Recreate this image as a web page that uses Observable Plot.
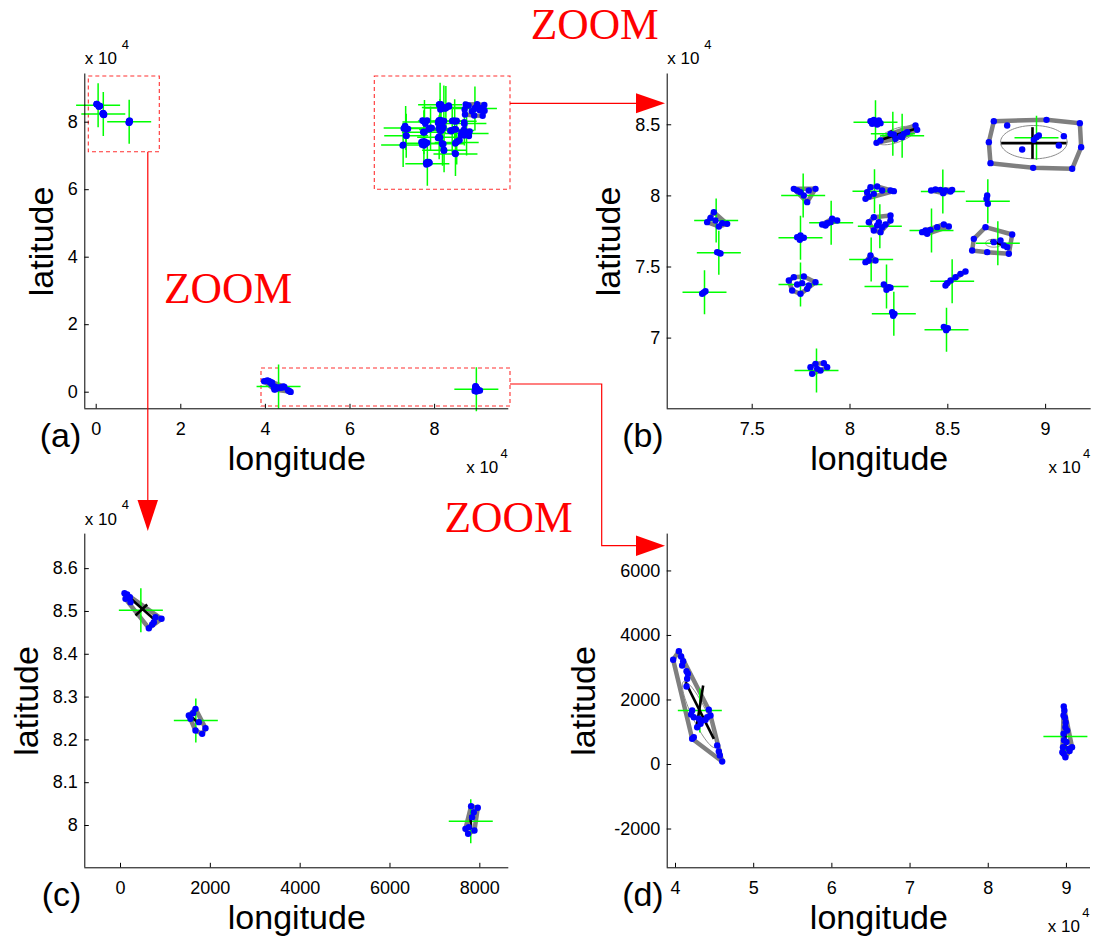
<!DOCTYPE html>
<html><head><meta charset="utf-8">
<script src="https://cdn.jsdelivr.net/npm/d3@7"></script>
<script src="https://cdn.jsdelivr.net/npm/@observablehq/plot@0.6"></script>
<style>
body{margin:0;background:#fff;}
#fig{position:relative;width:1098px;height:942px;overflow:hidden;background:#fff;}
</style></head><body><div id="fig"></div>
<script>
// ---------- DATA ----------
// cluster members (id, longitude, latitude) for the zoom of the north-east group (b)
const pointsB = [
 ["b1",81047,85255],["b1",81218,85349],["b1",81473,85302],["b1",81559,85115],["b1",81388,85021],["b1",81132,85068],["b1",81303,85185],
 ["b2",81354,83732],["b2",81559,83896],["b2",82070,84365],["b2",82240,84318],["b2",82581,84177],["b2",82752,84365],["b2",82922,84482],["b2",83433,84646],["b2",83348,84951],["b2",82666,84130],["b2",82325,84013],
 ["b3",87352,85255],["b3",88034,84951],["b3",90045,85349],["b3",91749,85115],["b3",87097,83779],["b3",91817,83427],["b3",91357,81904],["b3",89363,81974],["b3",87182,82302],["b3",88801,83263],["b3",90675,83544],["b3",90931,84200],["b3",89534,84130],["b3",89398,83943],["b3",89653,84248],
 ["b4",77128,80497],["b4",78236,80497],["b4",77810,79559],["b4",77469,80263],["b4",77639,80028],["b4",77895,80380],["b4",77299,80380],
 ["b5",80792,79794],["b5",80877,80263],["b5",81047,80614],["b5",81388,80661],["b5",81644,80380],["b5",82070,80380],["b5",82240,80333],["b5",81218,80145],["b5",80962,79958],
 ["b6",84149,80380],["b6",84370,80450],["b6",84626,80427],["b6",84882,80380],["b6",85137,80310],["b6",85222,80427],["b6",84762,80192],
 ["b7",87012,80028],["b7",87045,79443],["b7",86978,79794],
 ["b8",72698,78153],["b8",73039,78856],["b8",73720,78036],["b8",73294,77848],["b8",72868,78458],["b8",73124,78270],["b8",73465,78083],
 ["b9",78577,77989],["b9",78832,78083],["b9",79088,78388],["b9",79344,78270],["b9",79003,78153],["b9",78747,77919],
 ["b10",80962,78153],["b10",81218,78505],["b10",82070,78622],["b10",82070,78270],["b10",81559,77450],["b10",81218,77567],["b10",81388,77919],["b10",81644,77801],["b10",81473,78153],["b10",81814,77989],
 ["b11",83689,77450],["b11",83859,77567],["b11",84115,77614],["b11",84456,77801],["b11",84796,77989],["b11",85052,77848],["b11",83944,77333],
 ["b12",86330,76981],["b12",86927,77801],["b12",88290,77286],["b12",88119,75927],["b12",86245,76161],["b12",87012,76044],["b12",87352,76747],["b12",87863,76512],["b12",87693,76864],["b12",88034,76395],
 ["b13",73294,75997],["b13",73209,76044],["b13",73379,75950],
 ["b14",77299,77098],["b14",77469,77215],["b14",77639,77052],["b14",77435,76911],
 ["b15",80792,75340],["b15",81047,75809],["b15",81303,75458],["b15",80962,75458],
 ["b16",72442,73114],["b16",72612,73301],["b16",72527,73208],
 ["b17",76873,74051],["b17",77128,74285],["b17",77639,74332],["b17",78236,73934],["b17",77810,73465],["b17",77469,73114],["b17",77043,73348],["b17",77299,73770],["b17",77554,73864],["b17",77895,73700],
 ["b18",81729,73770],["b18",81985,73582],["b18",81866,73395],["b18",82070,73536],
 ["b19",84882,73700],["b19",85137,74051],["b19",85393,74285],["b19",85648,74520],["b19",85904,74684],["b19",84967,73864],
 ["b20",82155,71825],["b20",82274,71707],["b20",82206,71567],
 ["b21",84796,70793],["b21",85000,70699],["b21",84915,70558],
 ["b22",77980,67957],["b22",78236,68191],["b22",78662,68238],["b22",78832,67957],["b22",78491,67722],["b22",78065,67488],["b22",78321,67839]
];
const crossesB = [
 ["b1",81303,85185],["b2",82189,84365],["b2",82666,84224],["b3",89534,84084],["b4",77606,80028],["b5",81252,80333],
 ["b6",84745,80310],["b7",87045,79630],["b8",73158,78270],["b9",79037,78107],["b10",81525,77872],["b11",84166,77567],
 ["b12",87557,76676],["b13",73294,75997],["b14",77469,77052],["b15",81082,75528],["b16",72562,73231],["b17",77469,73770],
 ["b18",81866,73629],["b19",85222,74004],["b20",82240,71707],["b21",84933,70582],["b22",78287,67722]
];
const segmentsB = [[81473,83896,83348,84717],[82070,84599,82325,83779],[87727,83708,91067,83708],[89329,84833,89329,82607],[87182,76864,87863,76512]];
const ellipsesB = [["b2",82377,84248,971,469,118,-457],["b3",89398,83779,1704,0,0,1172],["b12",87352,76676,426,0,0,281]];

// north-west group (c)
const pointsC = [
 ["c1",89,85427],["c1",148,85396],["c1",208,85334],["c1",111,85295],["c1",223,85217],["c1",779,84866],["c1",913,84828],["c1",742,84750],["c1",705,84695],["c1",631,84609],
 ["c2",1670,82725],["c2",1521,82570],["c2",1558,82492],["c2",1744,82414],["c2",1670,82219],["c2",1818,82141],["c2",1892,82274],["c2",1618,82624],
 ["c3",7806,80452],["c3",7954,80413],["c3",7865,80311],["c3",7754,79961],["c3",7680,79922],["c3",7739,79805],["c3",7880,79883],["c3",7828,80195]
];
const crossesC = [["c1",453,85030],["c2",1677,82453],["c3",7798,80101]];
const segmentsC = [[148,85373,779,84789],[334,84906,594,85163],[1595,82531,1744,82375],[7791,80234,7806,79922]];

// southern group (d)
const pointsD = [
 ["d1",39700,3245],["d1",40430,3513],["d1",40720,3348],["d1",40980,3203],["d1",40850,3069],["d1",41410,2893],["d1",41580,2811],["d1",41490,2656],["d1",41410,2418],["d1",42130,1674],["d1",42000,1550],["d1",42340,1467],["d1",42980,1416],["d1",43410,1364],["d1",43840,1384],["d1",44260,1695],["d1",44480,1519],["d1",44050,1467],["d1",43200,1261],["d1",42770,1157],["d1",42340,847],["d1",42130,796],["d1",45330,589],["d1",45540,403],["d1",45670,279],["d1",45970,93],
 ["d2",89660,1798],["d2",89740,1674],["d2",89630,1519],["d2",89870,1157],["d2",90080,1054],["d2",89630,951],["d2",89560,537],["d2",90290,486],["d2",90720,537],["d2",89660,331],["d2",89480,382],["d2",89870,227],["d2",89900,1300],["d2",90000,700],["d2",89700,750],["d2",90400,420],["d2",89800,1450]
];
const crossesD = [["d1",43112,1674],["d2",89870,868]];
const segmentsD = [[41279,2552,44903,796],[43539,2449,42686,1157],[89870,1364,89870,537]];
const ellipsesD = [["d1",43070,1550,2021,-1023,863,99]];

// zoom regions drawn on the overview (x1, x2, y1, y2)
const zoomBoxes = [[-1749,15035,93541,71111],[65863,97943,93541,59970],[39078,97943,7022,-4237]];

// ticks and tick labels
const aXTicks = [0,20000,40000,60000,80000], aXLabels = ["0","2","4","6","8"];
const aYTicks = [0,20000,40000,60000,80000], aYLabels = ["0","2","4","6","8"];
const bXTicks = [75000,80000,85000,90000], bXLabels = ["7.5","8","8.5","9"];
const bYTicks = [70000,75000,80000,85000], bYLabels = ["7","7.5","8","8.5"];
const cXTicks = [0,2000,4000,6000,8000], cXLabels = ["0","2000","4000","6000","8000"];
const cYTicks = [80000,81000,82000,83000,84000,85000,86000], cYLabels = ["8","8.1","8.2","8.3","8.4","8.5","8.6"];
const dXTicks = [40000,50000,60000,70000,80000,90000], dXLabels = ["4","5","6","7","8","9"];
const dYTicks = [-2000,0,2000,4000,6000], dYLabels = ["-2000","0","2000","4000","6000"];

// ---------- HELPERS ----------
const FONT = "'Liberation Sans', Arial, Helvetica, sans-serif";
const crossSymbol = {draw(ctx, size){const r=Math.sqrt(size/Math.PI);ctx.moveTo(-r,0);ctx.lineTo(r,0);ctx.moveTo(0,-r);ctx.lineTo(0,r);}};
function hulls(points){
  const out=[];
  for (const [id, pts] of d3.group(points, d=>d[0])) {
    const xy = pts.map(p=>[p[1],p[2]]);
    const h = (xy.length>=3 && d3.polygonHull(xy)) || xy;
    h.forEach(q=>out.push({id, x:q[0], y:q[1]}));
  }
  return out;
}
function ellipsePts(e){
  const [id,cx,cy,ax,ay,bx,by]=e;
  return d3.range(0,73).map(i=>{const t=i/72*2*Math.PI;return {id,x:cx+ax*Math.cos(t)+bx*Math.sin(t),y:cy+ay*Math.cos(t)+by*Math.sin(t)};});
}
function makePanel(c){
  const mL=c.frame[0]-c.left, mR=c.left+c.width-c.frame[1], mT=c.frame[2]-c.top, mB=c.top+c.height-c.frame[3];
  const fw=c.frame[1]-c.frame[0], fh=c.frame[3]-c.frame[2];
  const X=d=>d[1], Y=d=>d[2];
  const marks=[];
  if (c.boxes) marks.push(Plot.rect(c.boxes,{x1:d=>d[0],x2:d=>d[1],y1:d=>d[2],y2:d=>d[3],fill:"none",stroke:"#ff3030",strokeWidth:1.1,strokeDasharray:"4,3"}));
  marks.push(Plot.line(hulls(c.pts),{x:"x",y:"y",z:"id",curve:"linear-closed",stroke:"#7f7f7f",strokeWidth:4.5,strokeLinejoin:"round"}));
  if (c.ells) marks.push(Plot.line(c.ells.flatMap(ellipsePts),{x:"x",y:"y",z:"id",curve:"linear-closed",stroke:"#8c8c8c",strokeWidth:1}));
  marks.push(Plot.dot(c.crosses,{x:X,y:Y,r:22,symbol:crossSymbol,fill:"none",stroke:"#00ff00",strokeWidth:1.5}));
  if (c.segs) marks.push(Plot.link(c.segs,{x1:d=>d[0],y1:d=>d[1],x2:d=>d[2],y2:d=>d[3],stroke:"#000",strokeWidth:2.6}));
  marks.push(Plot.dot(c.pts,{x:X,y:Y,r:3.2,fill:"#0000ff",stroke:"none"}));
  marks.push(Plot.ruleY([c.yDomain[0]],{stroke:"#000",strokeWidth:1}));
  marks.push(Plot.ruleX([c.xDomain[0]],{stroke:"#000",strokeWidth:1}));
  marks.push(Plot.tickX(c.xTicks,{x:d=>d,insetTop:fh-4.5,stroke:"#000"}));
  marks.push(Plot.tickY(c.yTicks,{y:d=>d,insetRight:fw-4.5,stroke:"#000"}));
  marks.push(Plot.text(c.xTicks,{x:d=>d,frameAnchor:"bottom",dy:26,textAnchor:"middle",lineAnchor:"bottom",text:(d,i)=>c.xLabels[i],fontSize:18,fill:"#000"}));
  marks.push(Plot.text(c.yTicks,{y:d=>d,frameAnchor:"left",dx:-7,textAnchor:"end",text:(d,i)=>c.yLabels[i],fontSize:18,fill:"#000"}));
  marks.push(Plot.text(["longitude"],{text:d=>d,frameAnchor:"bottom",dy:61,textAnchor:"middle",lineAnchor:"bottom",fontSize:34,fill:"#000"}));
  marks.push(Plot.text(["latitude"],{text:d=>d,frameAnchor:"left",dx:-c.yTitleOffset,rotate:-90,textAnchor:"middle",lineAnchor:"bottom",fontSize:34,fill:"#000"}));
  marks.push(Plot.text([c.letter],{text:d=>d,frameAnchor:"bottom-left",dx:-3.5,dy:38.5,textAnchor:"end",lineAnchor:"bottom",fontSize:34,fill:"#000"}));
  if (c.topMult){
    marks.push(Plot.text(["x 10"],{text:d=>d,frameAnchor:"top-left",dy:-9.6,textAnchor:"start",lineAnchor:"bottom",fontSize:17,fill:"#000"}));
    marks.push(Plot.text(["4"],{text:d=>d,frameAnchor:"top-left",dx:37,dy:-25.5,textAnchor:"start",lineAnchor:"bottom",fontSize:13,fill:"#000"}));
  }
  if (c.botMult){
    marks.push(Plot.text(["x 10"],{text:d=>d,frameAnchor:"bottom-right",dx:-10.5,dy:64,textAnchor:"end",lineAnchor:"bottom",fontSize:17,fill:"#000"}));
    marks.push(Plot.text(["4"],{text:d=>d,frameAnchor:"bottom-right",dx:-1,dy:49.5,textAnchor:"end",lineAnchor:"bottom",fontSize:13,fill:"#000"}));
  }
  const svg = Plot.plot({
    width:c.width, height:c.height, marginLeft:mL, marginRight:mR, marginTop:mT, marginBottom:mB,
    x:{domain:c.xDomain, axis:null}, y:{domain:c.yDomain, axis:null},
    style:{fontFamily:FONT, background:"transparent", overflow:"visible", color:"#000"},
    marks
  });
  svg.style.position="absolute"; svg.style.left=c.left+"px"; svg.style.top=c.top+"px"; svg.style.maxWidth="none";
  document.getElementById("fig").appendChild(svg);
  return svg;
}

const allPoints = pointsB.concat(pointsC, pointsD);
const allCrosses = crossesB.concat(crossesC, crossesD);

makePanel({letter:"(a)", left:0, top:0, width:549, height:490, frame:[84.3,508.3,73.5,408.3],
  xDomain:[-2695,97541], yDomain:[-4919,94281], xTicks:aXTicks, xLabels:aXLabels, yTicks:aYTicks, yLabels:aYLabels,
  pts:allPoints, crosses:allCrosses, boxes:zoomBoxes, yTitleOffset:31.9, topMult:true, botMult:true});
makePanel({letter:"(b)", left:549, top:0, width:549, height:490, frame:[666.7,1090.7,73.5,408.3],
  xDomain:[70655,92330], yDomain:[65029,88572], xTicks:bXTicks, xLabels:bXLabels, yTicks:bYTicks, yLabels:bYLabels,
  pts:pointsB, crosses:crossesB, segs:segmentsB, ells:ellipsesB, yTitleOffset:47, topMult:true, botMult:true});
makePanel({letter:"(c)", left:0, top:480, width:549, height:462, frame:[84.3,508.3,533.6,867.3],
  xDomain:[-795,8645], yDomain:[79012,86807], xTicks:cXTicks, xLabels:cXLabels, yTicks:cYTicks, yLabels:cYLabels,
  pts:pointsC, crosses:crossesC, segs:segmentsC, yTitleOffset:47, topMult:true, botMult:false});
makePanel({letter:"(d)", left:549, top:480, width:549, height:462, frame:[666.7,1090,533.6,867.3],
  xDomain:[38938,93079], yDomain:[-3202,7142], xTicks:dXTicks, xLabels:dXLabels, yTicks:dYTicks, yLabels:dYLabels,
  pts:pointsD, crosses:crossesD, segs:segmentsD, ells:ellipsesD, yTitleOffset:72, topMult:false, botMult:true});

// ---------- ZOOM annotations (overlay) ----------
const ov = d3.select("#fig").append("svg").attr("width",1098).attr("height",942)
  .style("position","absolute").style("left","0px").style("top","0px").style("pointer-events","none");
const red="#ff0000";
ov.append("path").attr("d","M147.8,151.7V500").attr("stroke",red).attr("stroke-width",1.2).attr("fill","none");
ov.append("path").attr("d","M137.5,500L158,500L147.8,531Z").attr("fill",red);
ov.append("path").attr("d","M510,103.3H636").attr("stroke",red).attr("stroke-width",1.2).attr("fill","none");
ov.append("path").attr("d","M636,93.3L636,113.3L665,103.3Z").attr("fill",red);
ov.append("path").attr("d","M510,384H601.7V545.7H636").attr("stroke",red).attr("stroke-width",1.2).attr("fill","none");
ov.append("path").attr("d","M636,535.5L636,556L665,545.7Z").attr("fill",red);
[["ZOOM",530.7,39.3],["ZOOM",164,302.7],["ZOOM",444.5,531.5]].forEach(([t,x,y])=>{
  ov.append("text").attr("x",x).attr("y",y).attr("fill",red)
    .attr("font-family","'Liberation Serif','Times New Roman',serif").attr("font-size",43.5).text(t);
});
</script></body></html>
